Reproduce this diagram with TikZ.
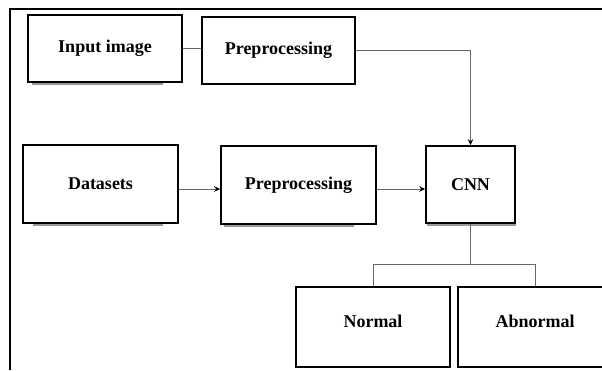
\documentclass[tikz,border=0pt]{standalone}
\usepackage{fontspec}
\setmainfont{Liberation Serif}
\usetikzlibrary{arrows.meta,backgrounds}
\begin{document}
\begin{tikzpicture}[x=1pt,y=-1pt,
  box/.style={draw=black,line width=1.6pt,fill=white,inner sep=0pt,font=\fontsize{18}{20}\selectfont\bfseries},
  lbl/.style={inner sep=0pt,font=\fontsize{18}{20}\selectfont\bfseries},
  conn/.style={draw=black!60,line width=1pt},
  arr/.style={conn,-{Stealth[length=6pt,width=5.5pt,color=black]}},
  shadowline/.style={draw=black!40,line width=2.4pt},
  frame/.style={draw=black,line width=2.2pt}]
\useasboundingbox (0,0) rectangle (602,370);
\clip (0,0) rectangle (602,370);
% frame
\coordinate (ftl) at (10,9);
\coordinate (ftr) at (602,9);
\coordinate (fbl) at (10,370);
\draw[frame] (fbl) -- (ftl) -- (ftr);
% boxes
\node[box,minimum width=154pt,minimum height=67pt] (in) at (105,48.5) {Input image};
\node[box,minimum width=153pt,minimum height=67pt] (pre1) at (278.5,50.5) {Preprocessing};
\node[box,minimum width=155pt,minimum height=78pt] (data) at (100.5,184) {Datasets};
\node[box,minimum width=155pt,minimum height=78pt] (pre2) at (298.5,185) {Preprocessing};
\node[box,minimum width=89pt,minimum height=77pt] (cnn) at (470.5,184.5) {CNN};
\node[box,minimum width=154pt,minimum height=80pt] (normal) at (373,327) {};
\node[box,minimum width=154pt,minimum height=80pt] (abnormal) at (535,327) {};
\node[lbl] (normallbl) at (373,321) {Normal};
\node[lbl] (abnormallbl) at (535,321) {Abnormal};
% shadow lines
\begin{scope}[on background layer]
\draw[shadowline] ([xshift=5pt,yshift=-0.8pt]in.south west) -- ([xshift=-20pt,yshift=-0.8pt]in.south east);
\draw[shadowline] ([xshift=11pt,yshift=-0.8pt]data.south west) -- ([xshift=-16pt,yshift=-0.8pt]data.south east);
\draw[shadowline] ([xshift=4pt,yshift=-0.8pt]pre2.south west) -- ([xshift=-23pt,yshift=-0.8pt]pre2.south east);
\draw[shadowline] ([xshift=2pt,yshift=-0.8pt]cnn.south west) -- ([xshift=0pt,yshift=-0.8pt]cnn.south east);
\end{scope}
% connectors
\draw[conn] (in.east) -- (pre1.west |- in.east);
\draw[arr] (pre1.east) -| (cnn.north);
\draw[arr] (data.east |- 0,189) -- (pre2.west |- 0,189);
\draw[arr] (pre2.east |- 0,189) -- (cnn.west |- 0,189);
\coordinate (split) at (cnn.south |- 0,264);
\draw[conn] (cnn.south) -- (split);
\draw[conn] (normal.north) -- (normal.north |- split) -- (abnormal.north |- split) -- (abnormal.north);
\end{tikzpicture}
\end{document}
